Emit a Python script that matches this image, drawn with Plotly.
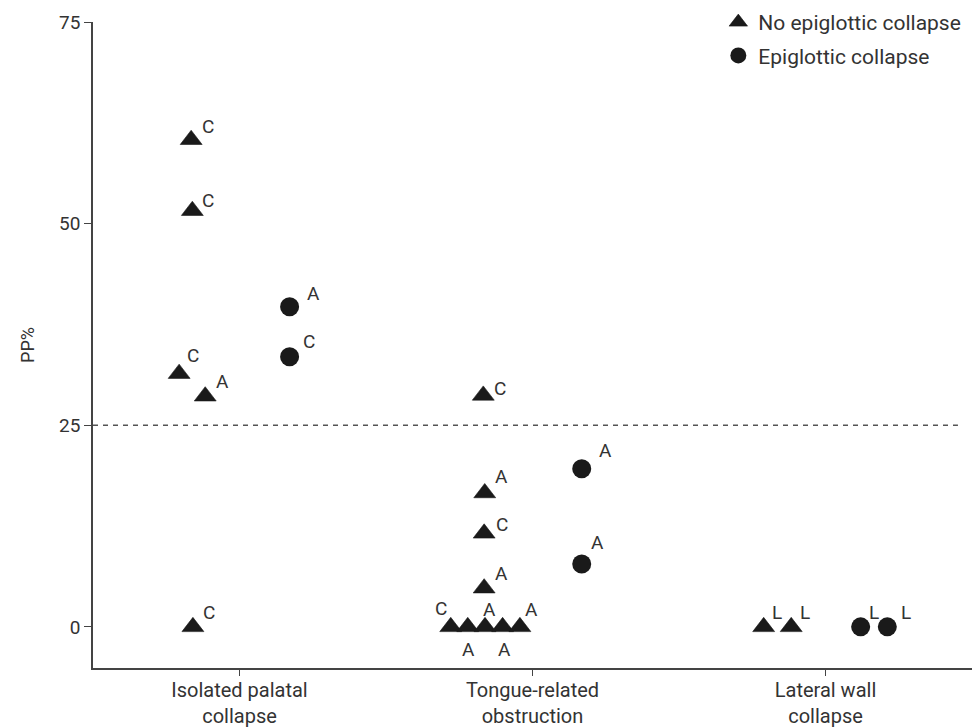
import plotly.graph_objects as go

# ---- data -------------------------------------------------------------
categories = ["Isolated palatal<br>collapse", "Tongue-related<br>obstruction", "Lateral wall<br>collapse"]
y_ticks = [0, 25, 50, 75]
threshold_pp = 25

# patients without epiglottic collapse
no_epi_group = [0, 0, 0, 0, 0, 1, 1, 1, 1, 1, 1, 1, 1, 1, 2, 2]
no_epi_pp = [60.4, 51.6, 31.4, 28.6, 0, 28.7, 16.6, 11.6, 4.8, 0, 0, 0, 0, 0, 0, 0]
no_epi_code = ["C", "C", "C", "A", "C", "C", "A", "C", "A", "C", "A", "A", "A", "A", "L", "L"]

# patients with epiglottic collapse
epi_group = [0, 0, 1, 1, 2, 2]
epi_pp = [39.7, 33.5, 19.6, 7.8, 0, 0]
epi_code = ["A", "C", "A", "A", "L", "L"]

# ---- layout helpers (horizontal spread of points, label nudges in px) --
no_epi_dx = [-0.165, -0.161, -0.206, -0.117, -0.159, -0.168, -0.163, -0.165, -0.165,
             -0.279, -0.221, -0.162, -0.102, -0.043, -0.211, -0.117]
epi_dx = [0.171, 0.171, 0.168, 0.168, 0.120, 0.211]

no_epi_shift = [(16.5, 13), (15.5, 10), (14, 18), (17, 14.5), (16, 14.5),
                (17, 7), (17, 16), (17.5, 9), (17, 15),
                (-10, 18), (1, -23), (4.7, 17), (2.3, -23), (11.5, 17),
                (13, 14), (14, 14)]
epi_shift = [(23.5, 13.5), (19, 15), (23.5, 18), (16, 21), (13, 14.5), (19, 14)]

FONT = "Roboto"
TEXT = "#333333"
INK = "#1a1a1a"
AXIS = "#444444"

no_epi_x = [g + d for g, d in zip(no_epi_group, no_epi_dx)]
epi_x = [g + d for g, d in zip(epi_group, epi_dx)]

fig = go.Figure()
fig.add_trace(go.Scatter(
    x=no_epi_x, y=no_epi_pp, mode="markers", name="No epiglottic collapse",
    legendgroup="no_epi",
    marker=dict(symbol="triangle-up", size=19, color=INK, line=dict(width=0.6, color=INK)),
    hoverinfo="skip",
))
fig.add_trace(go.Scatter(
    x=epi_x, y=epi_pp, mode="markers", name="Epiglottic collapse",
    legendgroup="epi",
    marker=dict(symbol="circle", size=19, color=INK, line=dict(width=0)),
    hoverinfo="skip",
))

annotations = []
for xs, ys, codes, shifts in ((no_epi_x, no_epi_pp, no_epi_code, no_epi_shift),
                              (epi_x, epi_pp, epi_code, epi_shift)):
    for x, y, c, (sx, sy) in zip(xs, ys, codes, shifts):
        annotations.append(dict(
            x=x, y=y, xref="x", yref="y", text=c, showarrow=False,
            xshift=sx, yshift=sy, font=dict(family=FONT, size=19, color=TEXT),
        ))

fig.add_shape(type="line", xref="x", yref="y", x0=-0.5, x1=2.452,
              y0=threshold_pp, y1=threshold_pp,
              line=dict(color="#555555", width=1.3, dash="5px,5px"))

fig.update_layout(
    width=977, height=727,
    margin=dict(l=93, r=5, t=22, b=59, autoexpand=False),
    paper_bgcolor="white", plot_bgcolor="white",
    font=dict(family=FONT, size=19, color=TEXT),
    annotations=annotations,
    showlegend=True,
    legend=dict(x=0.7114, y=1.031, xanchor="left", yanchor="top",
                font=dict(family=FONT, size=21, color=TEXT), tracegroupgap=3,
                bgcolor="rgba(0,0,0,0)", itemsizing="trace"),
    xaxis=dict(range=[-0.5, 2.5], tickvals=[0, 1, 2], ticktext=categories,
               showline=True, linecolor=AXIS, linewidth=1.5,
               ticks="outside", ticklen=6, tickcolor=AXIS, tickwidth=1.3,
               showgrid=False, zeroline=False, automargin=False,
               ticklabelstandoff=-3,
               tickfont=dict(family=FONT, size=20, color=TEXT)),
    yaxis=dict(range=[-5.1, 75], tickvals=y_ticks,
               showline=True, linecolor=AXIS, linewidth=1.5,
               ticks="outside", ticklen=7, tickcolor=AXIS, tickwidth=1.3,
               showgrid=False, zeroline=False, automargin=False,
               title=dict(text="PP%", font=dict(family=FONT, size=18, color=TEXT), standoff=20),
               tickfont=dict(family=FONT, size=19, color=TEXT)),
)

fig.write_html("out.html")
